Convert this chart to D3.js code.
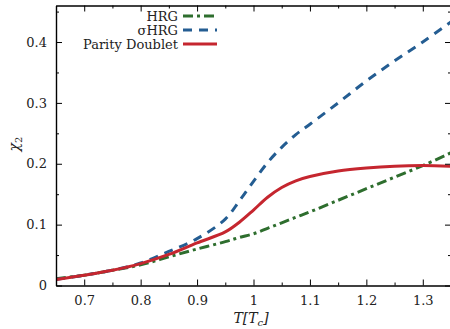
<!DOCTYPE html>
<html>
<head>
<meta charset="utf-8">
<script src="https://cdn.jsdelivr.net/npm/d3@7"></script>
<style>
  body { margin: 0; background: #fff; }
  text { font-family: "DejaVu Serif", "Liberation Serif", serif; }
</style>
</head>
<body>
<div id="chart"></div>
<script>
// temperature grid in units of Tc
const temps = [0.65, 0.7, 0.75, 0.8, 0.85, 0.9, 0.95, 0.975, 1.0, 1.025, 1.05, 1.075, 1.1, 1.15, 1.2, 1.25, 1.3, 1.35];
const hrg     = [0.011, 0.017, 0.025, 0.034, 0.047, 0.060, 0.072, 0.079, 0.085, 0.094, 0.103, 0.112, 0.121, 0.140, 0.159, 0.178, 0.197, 0.218];
const sigmaHrg = [0.010, 0.017, 0.025, 0.037, 0.056, 0.077, 0.109, 0.139, 0.171, 0.202, 0.227, 0.248, 0.265, 0.300, 0.336, 0.369, 0.400, 0.433];
const parity  = [0.010, 0.017, 0.025, 0.036, 0.051, 0.070, 0.088, 0.104, 0.124, 0.145, 0.161, 0.172, 0.179, 0.188, 0.193, 0.196, 0.197, 0.196];
const xTicks = [0.7, 0.8, 0.9, 1, 1.1, 1.2, 1.3];
const yTicks = [0, 0.1, 0.2, 0.3, 0.4];

const series = [
    { name: "HRG", values: hrg, color: "#2e6e2e", dash: "10,4,3,4" },
    { name: "\u03c3HRG", values: sigmaHrg, color: "#245d92", dash: "9,7" },
    { name: "Parity Doublet", values: parity, color: "#c5262f", dash: null }
];

const W = 450, H = 329;
const margin = { left: 56, right: -1, top: 5.5, bottom: 43.5 };

const svg = d3.select("#chart").append("svg")
    .attr("width", W).attr("height", H);

const x = d3.scaleLinear().domain([0.65, 1.35]).range([margin.left, W - margin.right]);
const y = d3.scaleLinear().domain([0, 0.46]).range([H - margin.bottom, margin.top]);

svg.append("clipPath").attr("id", "plotclip").append("rect")
    .attr("x", x(0.65)).attr("y", y(0.46))
    .attr("width", x(1.35) - x(0.65)).attr("height", y(0) - y(0.46));

// curves
const line = d3.line()
    .x((d, i) => x(temps[i]))
    .y(d => y(d))
    .curve(d3.curveCatmullRom.alpha(0.5));

const plot = svg.append("g").attr("clip-path", "url(#plotclip)");
series.forEach(s => {
    plot.append("path")
        .attr("d", line(s.values))
        .attr("fill", "none")
        .attr("stroke", s.color)
        .attr("stroke-width", 3)
        .attr("stroke-dasharray", s.dash)
        .attr("stroke-linecap", "butt");
});

// axes with inward ticks on all sides
const xMinor = d3.range(0.65, 1.351, 0.05).filter(v => !xTicks.some(t => Math.abs(t - v) < 1e-6));
const yMinor = d3.range(0.05, 0.46, 0.1);

const axBottom = svg.append("g").attr("transform", `translate(0,${y(0)})`);
axBottom.call(d3.axisBottom(x).tickValues(xTicks).tickSize(-6).tickSizeOuter(0).tickPadding(10).tickFormat(d3.format("~g")));
axBottom.append("g").call(d3.axisBottom(x).tickValues(xMinor).tickSize(-3).tickFormat(""))
    .select(".domain").remove();

const axTop = svg.append("g").attr("transform", `translate(0,${y(0.46)})`);
axTop.call(d3.axisTop(x).tickValues(xTicks).tickSize(-6).tickSizeOuter(0).tickFormat(""));
axTop.append("g").call(d3.axisTop(x).tickValues(xMinor).tickSize(-3).tickFormat(""))
    .select(".domain").remove();

const axLeft = svg.append("g").attr("transform", `translate(${x(0.65)},0)`);
axLeft.call(d3.axisLeft(y).tickValues(yTicks).tickSize(-6).tickSizeOuter(0).tickPadding(9).tickFormat(d3.format("~g")));
axLeft.append("g").call(d3.axisLeft(y).tickValues(yMinor).tickSize(-3).tickFormat(""))
    .select(".domain").remove();

const axRight = svg.append("g").attr("transform", `translate(${x(1.35)},0)`);
axRight.call(d3.axisRight(y).tickValues(yTicks).tickSize(-6).tickSizeOuter(0).tickFormat(""));
axRight.append("g").call(d3.axisRight(y).tickValues(yMinor).tickSize(-3).tickFormat(""))
    .select(".domain").remove();

svg.selectAll(".domain").attr("stroke", "#000").attr("stroke-width", 1.4);
svg.selectAll(".tick line").attr("stroke", "#000").attr("stroke-width", 1);
svg.selectAll(".tick text").attr("font-size", 13).attr("fill", "#222")
    .style("font-family", "'DejaVu Serif', serif");

// axis titles
svg.append("text")
    .attr("x", 251).attr("y", 323)
    .attr("text-anchor", "middle").attr("font-size", 14).attr("font-style", "italic")
    .attr("fill", "#222")
    .html('T[T<tspan dy="3" font-size="10">c</tspan><tspan dy="-3">]</tspan>');

svg.append("text")
    .attr("transform", "translate(19,144) rotate(-90)")
    .attr("text-anchor", "middle").attr("font-size", 14).attr("font-style", "italic")
    .attr("fill", "#222")
    .html('\u03c7<tspan dy="3" font-size="10" font-style="normal">2</tspan>');

// legend
const legend = svg.append("g");
series.forEach((s, i) => {
    const ly = 16 + i * 14;
    legend.append("text")
        .attr("x", 178).attr("y", ly + 4.5)
        .attr("text-anchor", "end").attr("font-size", 13).attr("fill", "#222")
        .text(s.name);
    legend.append("line")
        .attr("x1", 183).attr("x2", 217)
        .attr("y1", ly).attr("y2", ly)
        .attr("stroke", s.color).attr("stroke-width", 3)
        .attr("stroke-dasharray", s.dash);
});
</script>
</body>
</html>
